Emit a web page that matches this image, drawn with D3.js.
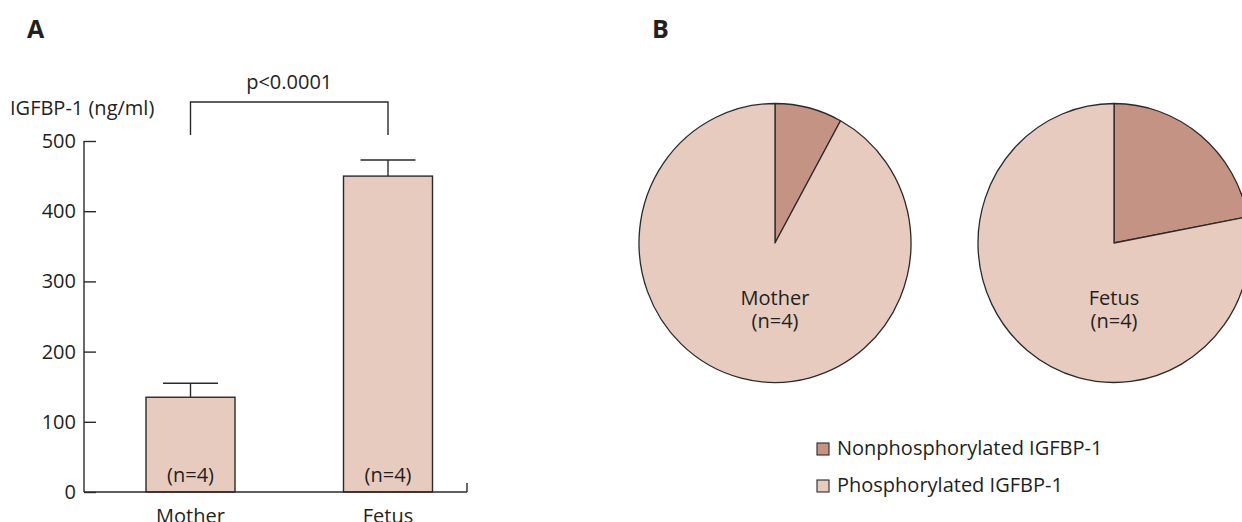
<!DOCTYPE html>
<html>
<head>
<meta charset="utf-8">
<script src="https://cdn.jsdelivr.net/npm/d3@7"></script>
<style>
  html, body { margin: 0; padding: 0; background: #fff; }
  svg { display: block; }
  text { font-family: "Open Sans", sans-serif; fill: #231f20; }
</style>
</head>
<body>
<svg id="fig" width="1242" height="522"></svg>
<script>
// Panel A: serum IGFBP-1 concentration (mean with upper SD whisker)
const groups = ["Mother", "Fetus"];
const meanValues = [135, 450];
const errorValues = [20, 23];
const groupN = ["(n=4)", "(n=4)"];
const yTicks = [0, 100, 200, 300, 400, 500];
const pValueLabel = "p<0.0001";
const yAxisTitle = "IGFBP-1 (ng/ml)";

// Panel B: share of nonphosphorylated vs phosphorylated IGFBP-1 (%)
const pieGroups = ["Mother", "Fetus"];
const nonPhosphorylated = [8, 22];
const phosphorylated = [92, 78];
const legendLabels = ["Nonphosphorylated IGFBP-1", "Phosphorylated IGFBP-1"];

const LIGHT = "#e7cbbf";
const DARK = "#c49384";
const INK = "#2b2a2a";

const svg = d3.select("#fig");

// ---------- Panel A ----------
const gA = svg.append("g");

gA.append("text").attr("x", 27).attr("y", 38)
  .attr("font-size", 25).attr("font-weight", 700).text("A");

const y = d3.scaleLinear().domain([0, 500]).range([492, 141]);
const x = d3.scalePoint().domain(groups).range([190.5, 388]);
const barW = 89;

// y axis: ticks pointing into the plot
const yAxis = d3.axisRight(y).tickValues(yTicks).tickSize(12).tickFormat(() => "");
const yAxisG = gA.append("g").attr("transform", "translate(84,0)").call(yAxis);
yAxisG.select(".domain").remove();
yAxisG.selectAll(".tick line").attr("stroke", INK).attr("stroke-width", 1.4);
gA.append("line").attr("x1", 84).attr("x2", 84)
  .attr("y1", y(500)).attr("y2", y(0)).attr("stroke", INK).attr("stroke-width", 1.4);

gA.selectAll(".ylab").data(yTicks).join("text")
  .attr("class", "ylab")
  .attr("x", 76).attr("y", d => y(d) + 7)
  .attr("text-anchor", "end").attr("font-size", 20)
  .text(d => d);

gA.append("text").attr("x", 10).attr("y", 115).attr("font-size", 20).text(yAxisTitle);

// bars
gA.selectAll(".bar").data(groups).join("rect")
  .attr("class", "bar")
  .attr("x", d => x(d) - barW / 2)
  .attr("y", (d, i) => y(meanValues[i]))
  .attr("width", barW)
  .attr("height", (d, i) => y(0) - y(meanValues[i]))
  .attr("fill", LIGHT).attr("stroke", INK).attr("stroke-width", 1.4);

// error whiskers
const capW = 55;
gA.selectAll(".err").data(groups).join("line")
  .attr("class", "err")
  .attr("x1", d => x(d)).attr("x2", d => x(d))
  .attr("y1", (d, i) => y(meanValues[i]))
  .attr("y2", (d, i) => y(meanValues[i] + errorValues[i]))
  .attr("stroke", INK).attr("stroke-width", 1.4);
gA.selectAll(".cap").data(groups).join("line")
  .attr("class", "cap")
  .attr("x1", d => x(d) - capW / 2).attr("x2", d => x(d) + capW / 2)
  .attr("y1", (d, i) => y(meanValues[i] + errorValues[i]))
  .attr("y2", (d, i) => y(meanValues[i] + errorValues[i]))
  .attr("stroke", INK).attr("stroke-width", 1.4);

// x axis baseline with end tick
gA.append("line").attr("x1", 84).attr("x2", 467)
  .attr("y1", y(0)).attr("y2", y(0)).attr("stroke", INK).attr("stroke-width", 1.4);
gA.append("line").attr("x1", 467).attr("x2", 467)
  .attr("y1", y(0) - 9).attr("y2", y(0)).attr("stroke", INK).attr("stroke-width", 1.4);

// n labels inside bars and category labels
gA.selectAll(".nlab").data(groups).join("text")
  .attr("class", "nlab")
  .attr("x", d => x(d)).attr("y", 482)
  .attr("text-anchor", "middle").attr("font-size", 20)
  .text((d, i) => groupN[i]);
gA.selectAll(".xlab").data(groups).join("text")
  .attr("class", "xlab")
  .attr("x", d => x(d)).attr("y", 523)
  .attr("text-anchor", "middle").attr("font-size", 20)
  .text(d => d);

// significance bracket
const bracketY = 102, bracketEnd = 135;
gA.append("path")
  .attr("d", `M${x("Mother")},${bracketEnd}V${bracketY}H${x("Fetus")}V${bracketEnd}`)
  .attr("fill", "none").attr("stroke", INK).attr("stroke-width", 1.4);
gA.append("text").attr("x", (x("Mother") + x("Fetus")) / 2).attr("y", 89)
  .attr("text-anchor", "middle").attr("font-size", 20).text(pValueLabel);

// ---------- Panel B ----------
const gB = svg.append("g");
gB.append("text").attr("x", 652).attr("y", 38)
  .attr("font-size", 25).attr("font-weight", 700).text("B");

const pieCx = d3.scalePoint().domain(pieGroups).range([775, 1114]);
const pieCy = 243;
const pieR = 139.5;
const pie = d3.pie().sort(null).value(d => d);
const arc = d3.arc().innerRadius(0).outerRadius(pieR);

pieGroups.forEach((name, i) => {
  const g = gB.append("g")
    .attr("transform", `translate(${pieCx(name)},${pieCy}) scale(0.975,1)`);
  g.selectAll("path")
    .data(pie([nonPhosphorylated[i], phosphorylated[i]]))
    .join("path")
    .attr("d", arc)
    .attr("fill", (d, j) => j === 0 ? DARK : LIGHT)
    .attr("stroke", INK).attr("stroke-width", 1.3)
    .attr("stroke-linejoin", "round")
    .attr("vector-effect", "non-scaling-stroke");
  gB.append("text").attr("x", pieCx(name)).attr("y", 305)
    .attr("text-anchor", "middle").attr("font-size", 20).text(name);
  gB.append("text").attr("x", pieCx(name)).attr("y", 328)
    .attr("text-anchor", "middle").attr("font-size", 20).text("(n=4)");
});

// legend
const legend = gB.selectAll(".leg").data(legendLabels).join("g")
  .attr("class", "leg")
  .attr("transform", (d, i) => `translate(817,${443 + i * 37})`);
legend.append("rect").attr("width", 12).attr("height", 12)
  .attr("fill", (d, i) => i === 0 ? DARK : LIGHT)
  .attr("stroke", INK).attr("stroke-width", 1.1);
legend.append("text").attr("x", 20).attr("y", 12).attr("font-size", 20).text(d => d);
</script>
</body>
</html>
